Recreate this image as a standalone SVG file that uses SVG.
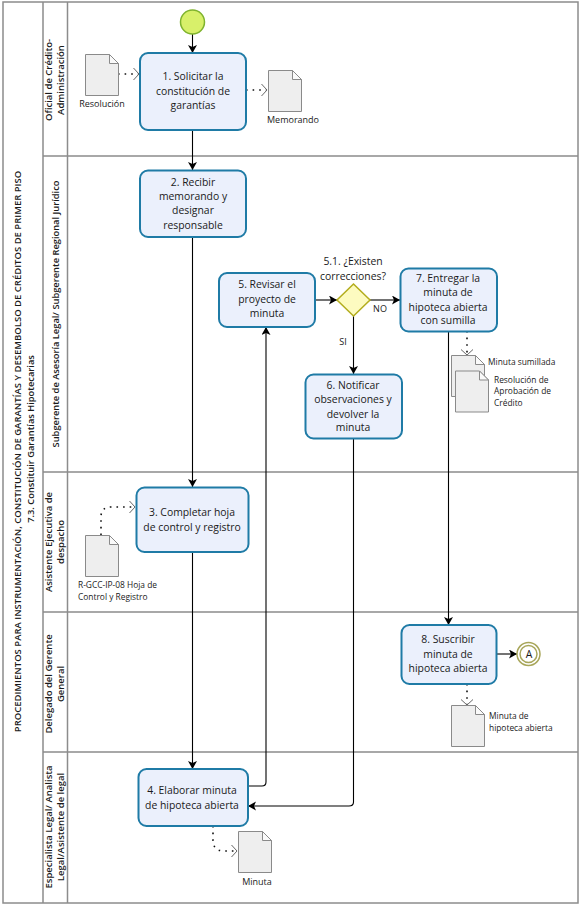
<svg xmlns="http://www.w3.org/2000/svg" width="581" height="907" viewBox="0 0 581 907">
<style>
text{font-family:"Open Sans","Noto Sans","Liberation Sans",sans-serif;fill:#1a1a1a;text-anchor:middle}
.t{font-size:10.4px}
.l{font-size:9px}
.ll{font-size:8.400px;text-anchor:start}
.h{font-size:9.500px;font-weight:600}
.task{fill:#ebf0fc;stroke:#1f7ba6;stroke-width:2}
.doc{fill:#eeeeee;stroke:#8a8a8a;stroke-width:1}
.fold{fill:#fafafa;stroke:#8a8a8a;stroke-width:1}
.lane{fill:none;stroke:#8c8c8c;stroke-width:1.5}
.f{fill:none;stroke:#000;stroke-width:1.1;marker-end:url(#a)}
.d{fill:none;stroke:#111;stroke-width:1.6;stroke-dasharray:1.6 5;marker-end:url(#o)}
</style>
<defs>
<marker id="a" markerUnits="userSpaceOnUse" markerWidth="10" markerHeight="10" refX="8" refY="4.5" orient="auto"><path d="M0 0L8 4.5L0 9L2 4.500Z" fill="#000"/></marker>
<marker id="o" markerUnits="userSpaceOnUse" markerWidth="9" markerHeight="14" refX="6.500" refY="6.500" orient="auto"><path d="M1 .5L6.500 6.500L1 12.500" fill="none" stroke="#666" stroke-width="1"/></marker>
<g id="docshape"><path class="doc" d="M0 0H24L33 9V41H0Z"/><path class="fold" d="M24 0V9H33Z"/></g>
</defs>
<rect width="581" height="907" fill="#fff"/>
<g id="pool">
<rect class="lane" x="3" y="2" width="575" height="901"/>
<path class="lane" d="M43 2V903M67.500 2V903M43 156H578M43 472H578M43 612H578M43 752H578"/>
<text class="h" transform="translate(21,451.500) rotate(-90)">PROCEDIMIENTOS PARA  INSTRUMENTACIÓN, CONSTITUCIÓN DE GARANTÍAS Y DESEMBOLSO DE CRÉDITOS DE PRIMER PISO</text>
<text class="h" style="font-size:9.300px" transform="translate(34,439) rotate(-90)">7.3. Constituir Garantías Hipotecarias</text>
</g>
<g id="lane-oficial"><text class="h" transform="translate(52,80) rotate(-90)">Oficial de Crédito-</text><text class="h" transform="translate(64,80) rotate(-90)">Administración</text></g>
<g id="lane-subgerente"><text class="h" style="font-size:9.300px" transform="translate(59,314) rotate(-90)">Subgerente de Asesoría Legal/ Subgerente Regional Jurídico</text></g>
<g id="lane-asistente"><text class="h" transform="translate(52,542) rotate(-90)">Asistente Ejecutiva de</text><text class="h" transform="translate(64,542) rotate(-90)">despacho</text></g>
<g id="lane-delegado"><text class="h" transform="translate(52,684) rotate(-90)">Delegado del Gerente</text><text class="h" transform="translate(64,684) rotate(-90)">General</text></g>
<g id="lane-especialista"><text class="h" transform="translate(52,827) rotate(-90)">Especialista Legal/ Analista</text><text class="h" transform="translate(64,827) rotate(-90)">Legal/Asistente de legal</text></g>
<g id="connectors">
<path class="f" d="M192.500 34V53"/>
<path class="f" d="M192.500 130V170"/>
<path class="f" d="M192.500 237V487"/>
<path class="f" d="M192.500 552V769"/>
<path class="f" d="M248 786H262Q266 786 266 782V327"/>
<path class="f" d="M315 300H337"/>
<path class="f" d="M370 300H400"/>
<path class="f" d="M353.500 316V374"/>
<path class="f" d="M353.500 438V802Q353.500 806 349 806H248"/>
<path class="f" d="M448.500 331V625"/>
<path class="f" d="M496 654H517"/>
<path class="d" d="M118 74H139"/>
<path class="d" d="M246 90H267"/>
<path class="d" d="M467 331V355"/>
<path class="d" d="M467 684V705"/>
<path class="d" d="M101 535V517Q101 507 111 507H135"/>
<path class="d" d="M213 826V840Q213 851 224 851H237"/>
</g>
<g id="start"><circle cx="192.500" cy="22" r="12" fill="#d8f06a" stroke="#7fb32e" stroke-width="1.500"/></g>
<g id="task1"><rect class="task" x="140" y="53" width="106" height="77" rx="8"/><text class="t" x="193" y="80">1. Solicitar la</text><text class="t" x="193" y="95">constitución de</text><text class="t" x="193" y="109">garantías</text></g>
<g id="task2"><rect class="task" x="140" y="170.500" width="106" height="66.500" rx="8"/><text class="t" x="193" y="186">2. Recibir</text><text class="t" x="193" y="200">memorando y</text><text class="t" x="193" y="214">designar</text><text class="t" x="193" y="229">responsable</text></g>
<g id="task5"><rect class="task" x="219" y="273" width="96" height="54" rx="8"/><text class="t" x="267" y="288">5. Revisar el</text><text class="t" x="267" y="303">proyecto de</text><text class="t" x="267" y="317">minuta</text></g>
<g id="gateway"><path d="M353.500 284L370 300L353.500 316L337 300Z" fill="#fdfbc0" stroke="#b3ad1e" stroke-width="1.500"/><text class="t" x="353" y="265">5.1. ¿Existen</text><text class="t" x="353" y="280">correcciones?</text></g>
<g id="task7"><rect class="task" x="400.500" y="268.500" width="96.500" height="63" rx="8"/><text class="t" x="448" y="282">7. Entregar la</text><text class="t" x="448" y="296">minuta de</text><text class="t" x="448" y="311">hipoteca abierta</text><text class="t" x="448" y="324">con sumilla</text></g>
<g id="task6"><rect class="task" x="305.500" y="374.500" width="96.500" height="64" rx="8"/><text class="t" x="353" y="389">6. Notificar</text><text class="t" x="353" y="403">observaciones y</text><text class="t" x="353" y="418">devolver la</text><text class="t" x="353" y="431">minuta</text></g>
<g id="task3"><rect class="task" x="136.500" y="487.500" width="112" height="64.500" rx="8"/><text class="t" x="192" y="516">3. Completar hoja</text><text class="t" x="192" y="531">de control y registro</text></g>
<g id="task8"><rect class="task" x="401.500" y="625" width="95" height="59" rx="8"/><text class="t" x="448" y="643">8. Suscribir</text><text class="t" x="448" y="658">minuta de</text><text class="t" x="448" y="672">hipoteca abierta</text></g>
<g id="end"><circle cx="528.500" cy="654" r="11.500" fill="#fff" stroke="#a8a65a" stroke-width="1.500"/><circle cx="528.500" cy="654" r="8.500" fill="#fff" stroke="#a8a65a" stroke-width="1.500"/><text class="t" x="529" y="658">A</text></g>
<g id="task4"><rect class="task" x="138.500" y="769" width="109.500" height="57" rx="8"/><text class="t" x="192" y="794">4. Elaborar minuta</text><text class="t" x="192" y="809">de hipoteca abierta</text></g>
<g id="doc-resolucion"><use href="#docshape" x="85.500" y="54.500"/><text class="l" x="102" y="107">Resolución</text></g>
<g id="doc-memorando"><use href="#docshape" x="268.500" y="70.500"/><text class="l" x="293" y="123">Memorando</text></g>
<g id="doc-sumillada"><use href="#docshape" x="451.500" y="355.500"/><text class="ll" x="488" y="365">Minuta sumillada</text></g>
<g id="doc-aprobacion"><use href="#docshape" x="455.500" y="371"/><text class="ll" x="494" y="382.500">Resolución de</text><text class="ll" x="494" y="394">Aprobación de</text><text class="ll" x="494" y="405.500">Crédito</text></g>
<g id="doc-hoja"><use href="#docshape" x="85.500" y="535.500"/><text class="ll" x="78" y="588">R-GCC-IP-08 Hoja de</text><text class="ll" x="78" y="600">Control y  Registro</text></g>
<g id="doc-minuta-hipoteca"><use href="#docshape" x="451.500" y="705.500"/><text class="ll" x="489" y="719">Minuta  de</text><text class="ll" x="489" y="731">hipoteca abierta</text></g>
<g id="doc-minuta"><use href="#docshape" x="238.500" y="831.500"/><text class="l" x="257" y="885">Minuta</text></g>
<g id="labels"><text class="l" x="380" y="312">NO</text><text class="l" x="343" y="345">SI</text></g>
</svg>
